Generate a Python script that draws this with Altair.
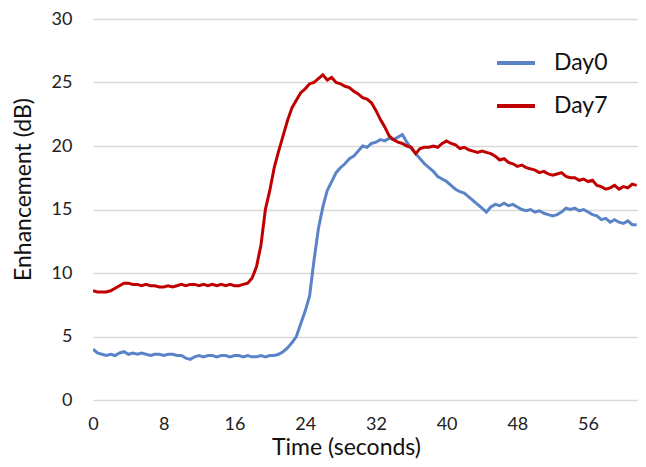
import altair as alt
import pandas as pd

times = [0, 0.5, 1, 1.5, 2, 2.5, 3, 3.5, 4, 4.5, 5, 5.5, 6, 6.5, 7, 7.5, 8, 8.5, 9, 9.5,
         10, 10.5, 11, 11.5, 12, 12.5, 13, 13.5, 14, 14.5, 15, 15.5, 16, 16.5, 17, 17.5, 18, 18.5, 19, 19.5,
         20, 20.5, 21, 21.5, 22, 22.5, 23, 23.5, 24, 24.5, 25, 25.5, 26, 26.5, 27, 27.5, 28, 28.5, 29, 29.5,
         30, 30.5, 31, 31.5, 32, 32.5, 33, 33.5, 34, 34.5, 35, 35.5, 36, 36.5, 37, 37.5, 38, 38.5, 39, 39.5,
         40, 40.5, 41, 41.5, 42, 42.5, 43, 43.5, 44, 44.5, 45, 45.5, 46, 46.5, 47, 47.5, 48, 48.5, 49, 49.5,
         50, 50.5, 51, 51.5, 52, 52.5, 53, 53.5, 54, 54.5, 55, 55.5, 56, 56.5, 57, 57.5, 58, 58.5, 59, 59.5,
         60, 60.5, 61, 61.5]

day0 = [4.0, 3.7, 3.6, 3.5, 3.6, 3.5, 3.7, 3.8, 3.6, 3.7, 3.6, 3.7, 3.6, 3.5, 3.6, 3.6, 3.5, 3.6, 3.6, 3.5,
        3.5, 3.3, 3.2, 3.4, 3.5, 3.4, 3.5, 3.5, 3.4, 3.5, 3.5, 3.4, 3.5, 3.5, 3.4, 3.5, 3.4, 3.4, 3.5, 3.4,
        3.5, 3.5, 3.6, 3.8, 4.1, 4.5, 5.0, 6.0, 7.0, 8.2, 11.0, 13.5, 15.2, 16.5, 17.2, 17.9, 18.3, 18.6, 19.0, 19.2,
        19.6, 20.0, 19.9, 20.2, 20.3, 20.5, 20.4, 20.6, 20.5, 20.7, 20.9, 20.3, 19.8, 19.4, 19.0, 18.6, 18.3, 18.0, 17.6, 17.4,
        17.2, 16.9, 16.6, 16.4, 16.3, 16.0, 15.7, 15.4, 15.1, 14.8, 15.2, 15.4, 15.3, 15.5, 15.3, 15.4, 15.2, 15.0, 14.9, 15.0,
        14.8, 14.9, 14.7, 14.6, 14.5, 14.6, 14.8, 15.1, 15.0, 15.1, 14.9, 15.0, 14.8, 14.6, 14.5, 14.2, 14.3, 14.0, 14.2, 14.0,
        13.9, 14.1, 13.8, 13.8]

day7 = [8.6, 8.5, 8.5, 8.5, 8.6, 8.8, 9.0, 9.2, 9.2, 9.1, 9.1, 9.0, 9.1, 9.0, 9.0, 8.9, 8.9, 9.0, 8.9, 9.0,
        9.1, 9.0, 9.1, 9.1, 9.0, 9.1, 9.0, 9.1, 9.0, 9.1, 9.0, 9.1, 9.0, 9.0, 9.1, 9.2, 9.6, 10.5, 12.2, 15.0,
        16.5, 18.3, 19.6, 20.8, 22.0, 23.0, 23.6, 24.2, 24.5, 24.9, 25.0, 25.3, 25.6, 25.2, 25.4, 25.0, 24.9, 24.7, 24.6, 24.3,
        24.1, 23.8, 23.7, 23.4, 22.8, 22.1, 21.5, 20.8, 20.5, 20.3, 20.2, 20.0, 19.9, 19.4, 19.8, 19.9, 19.9, 20.0, 19.9, 20.2,
        20.4, 20.2, 20.1, 19.8, 19.9, 19.7, 19.6, 19.5, 19.6, 19.5, 19.4, 19.2, 18.9, 19.0, 18.7, 18.6, 18.4, 18.5, 18.3, 18.2,
        18.1, 17.9, 18.0, 17.8, 17.7, 17.8, 17.9, 17.6, 17.5, 17.5, 17.3, 17.4, 17.2, 17.3, 16.9, 16.8, 16.6, 16.7, 16.9, 16.6,
        16.8, 16.7, 17.0, 16.9]

series_names = ["Day0", "Day7"]
series_colors = ["#5B84C8", "#C00000"]
x_ticks = [0, 8, 16, 24, 32, 40, 48, 56]
y_ticks = [0, 5, 10, 15, 20, 25, 30]

rows = []
for t, v in zip(times, day0):
    rows.append({"t": t, "v": v, "series": "Day0"})
for t, v in zip(times, day7):
    rows.append({"t": t, "v": v, "series": "Day7"})
df = pd.DataFrame(rows)

FONT = "Lato"

chart = alt.Chart(df).mark_line(strokeWidth=3, clip=True).encode(
    x=alt.X("t:Q", scale=alt.Scale(domain=[0, 61.65], nice=False, zero=False),
            axis=alt.Axis(values=x_ticks, title="Time (seconds)", grid=False, ticks=False,
                          domain=False, labelFontSize=18, labelPadding=15, labelFlush=False,
                          titleFontSize=23, titleFontWeight="normal",
                          titleX=253, titleY=47, titleBaseline="middle",
                          labelColor="#222222", titleColor="#111111",
                          labelFont=FONT, titleFont=FONT)),
    y=alt.Y("v:Q", scale=alt.Scale(domain=[0, 30], nice=False),
            axis=alt.Axis(values=y_ticks, title="Enhancement (dB)", grid=True, ticks=False,
                          domain=False, gridColor="#D9D9D9", gridWidth=1.5,
                          labelFontSize=18, labelPadding=21, labelFlush=False,
                          titleFontSize=23, titleFontWeight="normal",
                          titleX=-70, titleY=170, titleBaseline="middle",
                          labelColor="#222222", titleColor="#111111",
                          labelFont=FONT, titleFont=FONT)),
    color=alt.Color("series:N",
                    scale=alt.Scale(domain=series_names, range=series_colors),
                    legend=alt.Legend(title=None, orient="none", legendX=402, legendY=23,
                                      symbolType="stroke", symbolSize=1444, symbolStrokeWidth=4,
                                      labelFontSize=23, labelFont=FONT, labelColor="#111111",
                                      labelOffset=17, rowPadding=10)),
).properties(
    width=545, height=381,
    autosize=alt.AutoSizeParams(type="none"),
    padding={"left": 85, "top": 11, "right": 0, "bottom": 59},
).configure_view(stroke=None)

chart.save("out.html", embed_options={"renderer": "svg", "actions": False})
